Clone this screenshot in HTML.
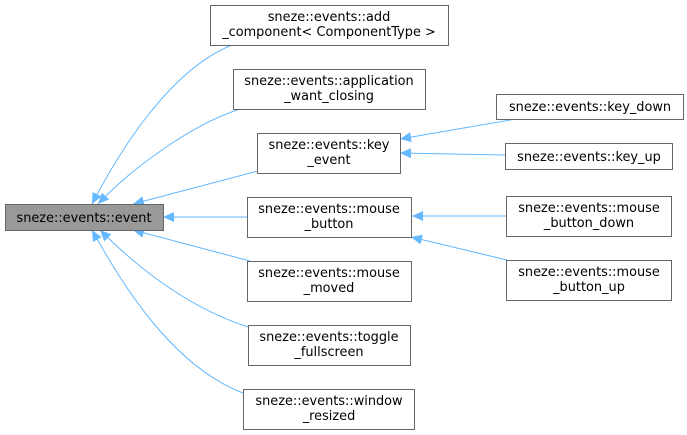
<!DOCTYPE html>
<html><head><meta charset="utf-8"><style>
html,body{margin:0;padding:0;background:#fff;}
svg{display:block;}
text{font-family:"DejaVu Sans","Liberation Sans",sans-serif;font-size:12.9px;fill:#000;}
</style></head><body>
<svg width="687" height="435" viewBox="0 0 687 435" xmlns="http://www.w3.org/2000/svg">
<defs>
<marker id="a" markerWidth="12" markerHeight="10" refX="11" refY="5" orient="auto" markerUnits="userSpaceOnUse">
<path d="M0,0 L11,5 L0,10 Z" fill="#63b8ff"/>
</marker>
</defs>
<g fill="none" stroke="#63b8ff" stroke-width="1" marker-end="url(#a)">
<path d="M232,45 C170,70 120,150 92,204"/>
<path d="M240,109 C190,125 130,170 98,204"/>
<path d="M258,171 L133,204"/>
<path d="M247,217 L163,217"/>
<path d="M250,261 L133,230"/>
<path d="M248,327 C190,308 140,270 100,230"/>
<path d="M243,393 C170,365 120,280 92,230"/>
<path d="M516,119 L400,139"/>
<path d="M505,155 L400,153"/>
<path d="M506,216 L412,216"/>
<path d="M507,260 L411,237"/>
</g>
<g stroke="#666" stroke-width="1">
<rect x="5.5" y="204.5" width="158" height="26" fill="#999"/>
</g>
<g fill="#fff" stroke="#666" stroke-width="1">
<rect x="210.5" y="5.5" width="238" height="40"/>
<rect x="233.5" y="69.5" width="192" height="40"/>
<rect x="257.5" y="133.5" width="143" height="40"/>
<rect x="247.5" y="197.5" width="164" height="40"/>
<rect x="247.5" y="261.5" width="164" height="40"/>
<rect x="248.5" y="325.5" width="162" height="40"/>
<rect x="243.5" y="389.5" width="171" height="40"/>
<rect x="496.5" y="94.5" width="187" height="25"/>
<rect x="505.5" y="143.5" width="167" height="26"/>
<rect x="506.5" y="196.5" width="165" height="40"/>
<rect x="506.5" y="260.5" width="165" height="40"/>
</g>
<g text-anchor="middle">
<text x="84" y="222">sneze::events::event</text>
<text x="329" y="21">sneze::events::add</text>
<text x="329" y="36">_component&lt; ComponentType &gt;</text>
<text x="329" y="85">sneze::events::application</text>
<text x="329" y="100">_want_closing</text>
<text x="329" y="149">sneze::events::key</text>
<text x="329" y="164">_event</text>
<text x="329" y="213">sneze::events::mouse</text>
<text x="329" y="228">_button</text>
<text x="329" y="277">sneze::events::mouse</text>
<text x="329" y="292">_moved</text>
<text x="329" y="341">sneze::events::toggle</text>
<text x="329" y="356">_fullscreen</text>
<text x="329" y="405">sneze::events::window</text>
<text x="329" y="420">_resized</text>
<text x="590" y="111">sneze::events::key_down</text>
<text x="589" y="161">sneze::events::key_up</text>
<text x="589" y="212">sneze::events::mouse</text>
<text x="589" y="227">_button_down</text>
<text x="589" y="276">sneze::events::mouse</text>
<text x="589" y="291">_button_up</text>
</g>
</svg>
</body></html>
